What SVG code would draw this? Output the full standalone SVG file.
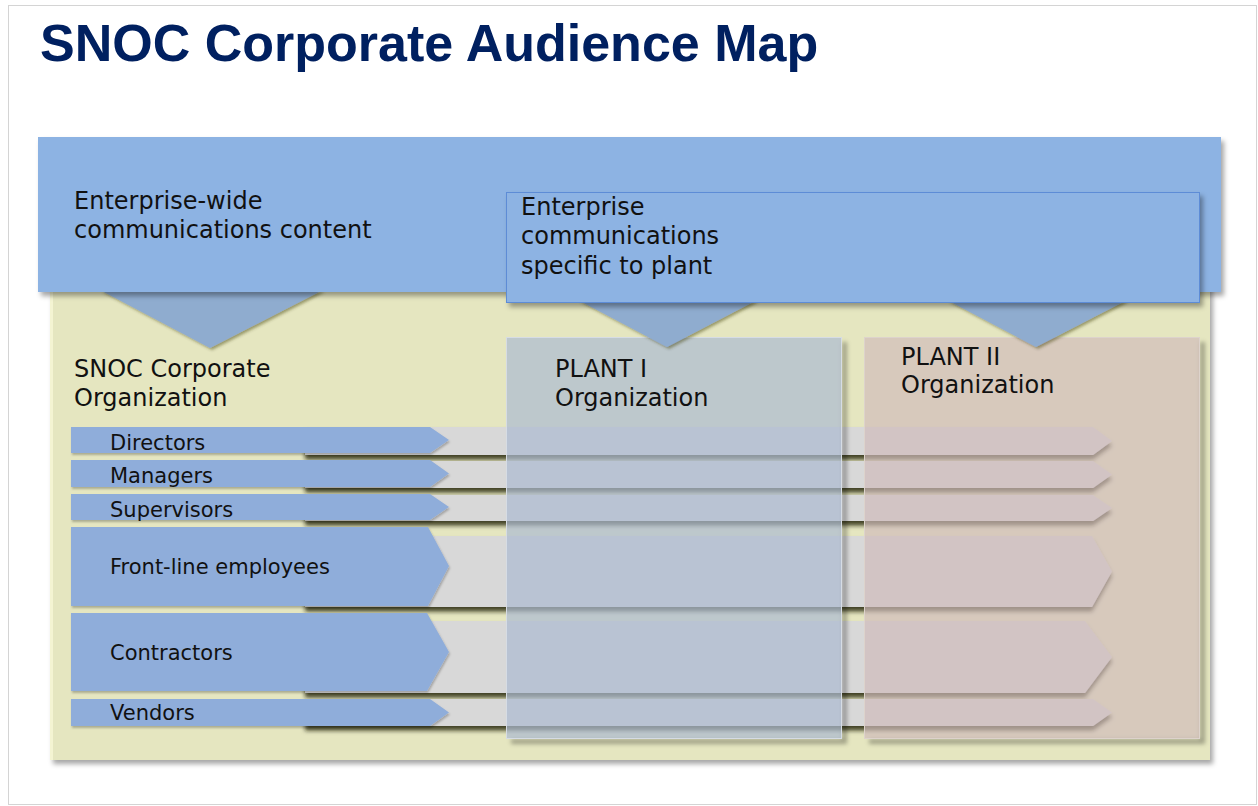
<svg xmlns="http://www.w3.org/2000/svg" width="1258" height="806" viewBox="0 0 1258 806">
  <defs>
    <filter id="shadow" x="-5%" y="-5%" width="115%" height="120%">
      <feDropShadow dx="3" dy="4" stdDeviation="2.5" flood-color="#000" flood-opacity="0.35"/>
    </filter>
    <filter id="rowShadow" x="-2%" y="-20%" width="104%" height="180%">
      <feDropShadow dx="0" dy="4.5" stdDeviation="1.9" flood-color="#1a1a00" flood-opacity="0.8"/>
    </filter>
    <filter id="softShadow" x="-2%" y="-20%" width="104%" height="160%">
      <feDropShadow dx="1" dy="2" stdDeviation="1" flood-color="#000" flood-opacity="0.25"/>
    </filter>
    <filter id="triShadow" x="-10%" y="-10%" width="120%" height="130%">
      <feDropShadow dx="2" dy="2" stdDeviation="1.5" flood-color="#3a3a10" flood-opacity="0.45"/>
    </filter>
    <filter id="blur" x="-5%" y="-5%" width="110%" height="110%">
      <feGaussianBlur stdDeviation="2"/>
    </filter>
    <style>
      .title { font-family: "Liberation Sans", Arial, sans-serif; font-weight: bold; font-size: 52px; fill: #002060; }
      .label { font-family: "DejaVu Sans", "Open Sans", sans-serif; font-size: 24px; fill: #111; }
      .row { font-family: "DejaVu Sans", "Open Sans", sans-serif; font-size: 21px; fill: #111; }
      .band { fill: #8db3e3; }
      .panel { fill: #e5e6c0; }
      .tri { fill: #8faccf; }
      .chev { fill: #8fadda; }
      .track { fill: #d8d8d8; }
      .edge { fill: #000; fill-opacity: 0.3; }
    </style>
  </defs>

  <!-- page frame -->
  <rect x="0" y="0" width="1258" height="806" fill="#fff"/>
  <rect x="8.5" y="5.5" width="1248" height="799" fill="#fff" stroke="#d4d4d4" stroke-width="1"/>

  <!-- heading -->
  <g id="title">
    <text class="title" x="40" y="61">SNOC Corporate Audience Map</text>
  </g>

  <!-- corporate organization panel -->
  <g id="corporate-organization">
    <rect class="panel" x="50" y="280" width="1160" height="480" filter="url(#shadow)"/>
    <rect x="50" y="280" width="3" height="480" fill="#f4f4d2"/>
    <text class="label" x="74" y="377">SNOC Corporate<tspan x="74" dy="29">Organization</tspan></text>
  </g>

  <!-- audience rows: grey tracks behind, blue chevrons in front -->
  <g id="row-directors">
    <polygon class="track" points="305,427 1093,427 1112,441 1093,455 305,455" filter="url(#rowShadow)"/>
    <polygon class="chev" points="71,427 430,427 449,440 430,453 71,453" filter="url(#softShadow)"/>
    <text class="row" x="110" y="450">Directors</text>
  </g>
  <g id="row-managers">
    <polygon class="track" points="305,461 1093,461 1112,474.5 1093,488 305,488" filter="url(#rowShadow)"/>
    <polygon class="chev" points="71,460 430,460 449,473.5 430,487 71,487" filter="url(#softShadow)"/>
    <text class="row" x="110" y="483">Managers</text>
  </g>
  <g id="row-supervisors">
    <polygon class="track" points="305,495 1093,495 1112,508 1093,521 305,521" filter="url(#rowShadow)"/>
    <polygon class="chev" points="71,494 430,494 449,507 430,520 71,520" filter="url(#softShadow)"/>
    <text class="row" x="110" y="517">Supervisors</text>
  </g>
  <g id="row-front-line">
    <polygon class="track" points="305,536 1092,536 1112,571.5 1092,607 305,607" filter="url(#rowShadow)"/>
    <polygon class="chev" points="71,527 428,527 449,566 428,606 71,606" filter="url(#softShadow)"/>
    <text class="row" x="110" y="574">Front-line employees</text>
  </g>
  <g id="row-contractors">
    <polygon class="track" points="305,621 1085,621 1112,657 1085,693 305,693" filter="url(#rowShadow)"/>
    <polygon class="chev" points="71,613 427,613 449,652 427,691 71,691" filter="url(#softShadow)"/>
    <text class="row" x="110" y="660">Contractors</text>
  </g>
  <g id="row-vendors">
    <polygon class="track" points="305,699 1093,699 1112,712.5 1093,726 305,726" filter="url(#rowShadow)"/>
    <polygon class="chev" points="71,699 430,699 449,712.5 430,726 71,726" filter="url(#softShadow)"/>
    <text class="row" x="110" y="720">Vendors</text>
  </g>

  <!-- plant organizations (translucent columns over the rows); the shadow
       is an L-shaped strip so it does not darken the see-through fill -->
  <g id="plant-1">
    <path class="edge" d="M842,342 H847 V744 H511 V739 H842 Z" filter="url(#blur)"/>
    <rect x="506.5" y="337.5" width="335" height="401" fill="#adbad2" fill-opacity="0.7" stroke="#d6dce4" stroke-width="1"/>
    <text class="label" x="555" y="377">PLANT I<tspan x="555" dy="29">Organization</tspan></text>
  </g>
  <g id="plant-2">
    <path class="edge" d="M1200,342 H1205 V744 H869 V739 H1200 Z" filter="url(#blur)"/>
    <rect x="864.5" y="337.5" width="335" height="401" fill="#cfbbbb" fill-opacity="0.67" stroke="#ddd3cc" stroke-width="1"/>
    <text class="label" x="901" y="365">PLANT II<tspan x="901" dy="28">Organization</tspan></text>
  </g>

  <!-- downward pointers from content to organizations -->
  <g id="connectors">
    <polygon class="tri" points="100,290 323,290 210,348" filter="url(#triShadow)"/>
    <polygon class="tri" points="578,300 757,300 667,347" filter="url(#triShadow)"/>
    <polygon class="tri" points="947,300 1127,300 1036,347" filter="url(#triShadow)"/>
  </g>

  <!-- enterprise-wide content band -->
  <g id="enterprise-wide">
    <rect class="band" x="38" y="137" width="1183" height="155" filter="url(#shadow)"/>
    <text class="label" x="74" y="209">Enterprise-wide<tspan x="74" dy="29">communications content</tspan></text>
  </g>

  <!-- plant-specific content box -->
  <g id="plant-specific">
    <rect class="band" x="506.5" y="192.5" width="693" height="110" stroke="#5d8cd6" stroke-width="1" filter="url(#shadow)"/>
    <text class="label" x="521" y="215">Enterprise<tspan x="521" dy="29">communications</tspan><tspan x="521" dy="30">specific to plant</tspan></text>
  </g>
</svg>
